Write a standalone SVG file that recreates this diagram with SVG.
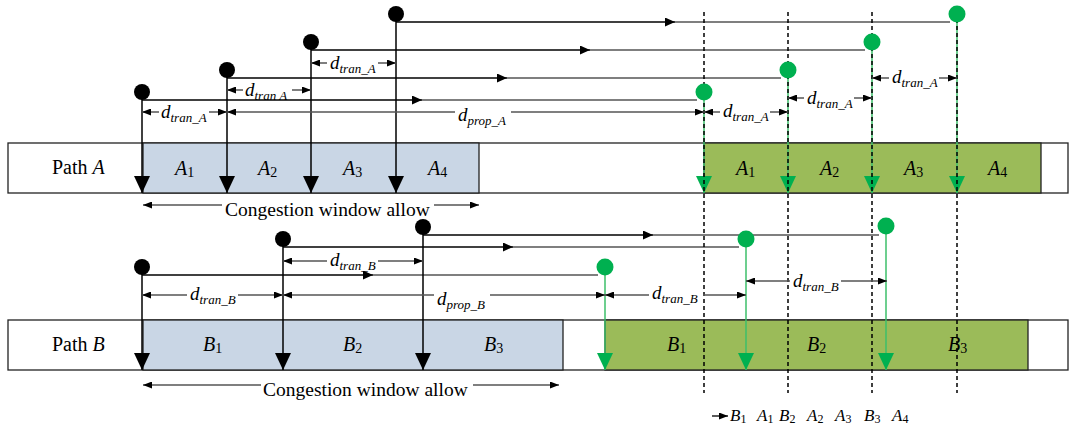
<svg xmlns="http://www.w3.org/2000/svg" width="1070" height="427" viewBox="0 0 1070 427">
<style>
.t{font-family:"Liberation Serif","Times New Roman",serif;fill:#000}
.lbl{font-size:20px}
.it{font-style:italic}
.sub{font-size:14px;font-style:normal}
.ord{font-size:17px}
.ords{font-size:12px;font-style:normal}
.dl{font-family:"Liberation Serif","Times New Roman",serif;font-style:italic;font-size:19px;fill:#000}
.ds{font-size:13px}
.outer{fill:#fff;stroke:#222;stroke-width:1.3}
.blue{fill:#C9D6E5;stroke:#222;stroke-width:1.3}
.green{fill:#9BBB59;stroke:#222;stroke-width:1.3}
.hl{stroke:#000;stroke-width:1.6;fill:none}
.hg{stroke:#555;stroke-width:1.5;fill:none}
.vl{stroke:#000;stroke-width:1.5;fill:none}
.gl{stroke:#3CBF6A;stroke-width:1.5;fill:none}
.dim{stroke:#555;stroke-width:1.3;fill:none}
.dash{stroke:#000;stroke-width:1.5;stroke-dasharray:4 3;fill:none}
.bd{fill:#000}
.gd{fill:#00B050}
</style>
<defs>
<marker id="aDown" viewBox="0 0 17 16" refX="17" refY="8" markerWidth="17" markerHeight="16" markerUnits="userSpaceOnUse" orient="auto"><path d="M0,0 L17,8 L0,16 z" fill="#000"/></marker>
<marker id="aDownG" viewBox="0 0 17 16" refX="17" refY="8" markerWidth="17" markerHeight="16" markerUnits="userSpaceOnUse" orient="auto"><path d="M0,0 L17,8 L0,16 z" fill="#00B050"/></marker>
<marker id="aMid" viewBox="0 0 10 9" refX="10" refY="4.5" markerWidth="10" markerHeight="9" markerUnits="userSpaceOnUse" orient="auto"><path d="M0,0 L10,4.5 L0,9 z" fill="#000"/></marker>
<marker id="aDim" viewBox="0 0 9 7" refX="9" refY="3.5" markerWidth="9" markerHeight="7" markerUnits="userSpaceOnUse" orient="auto-start-reverse"><path d="M0,0 L9,3.5 L0,7 z" fill="#000"/></marker>
</defs>

<!-- Path A bar -->
<g id="pathA">
<rect class="outer" x="8" y="143" width="1060" height="50"/>
<rect class="blue" x="143" y="143" width="336" height="50"/>
<rect class="green" x="704" y="143" width="337" height="50"/>
<text class="t lbl" x="52" y="174">Path <tspan class="it">A</tspan></text>
<text class="t lbl it" x="175" y="175">A<tspan class="sub" dy="2">1</tspan></text>
<text class="t lbl it" x="258" y="175">A<tspan class="sub" dy="2">2</tspan></text>
<text class="t lbl it" x="343" y="175">A<tspan class="sub" dy="2">3</tspan></text>
<text class="t lbl it" x="428" y="175">A<tspan class="sub" dy="2">4</tspan></text>
<text class="t lbl it" x="736" y="175">A<tspan class="sub" dy="2">1</tspan></text>
<text class="t lbl it" x="820" y="175">A<tspan class="sub" dy="2">2</tspan></text>
<text class="t lbl it" x="904" y="175">A<tspan class="sub" dy="2">3</tspan></text>
<text class="t lbl it" x="988" y="175">A<tspan class="sub" dy="2">4</tspan></text>
</g>

<!-- Path B bar -->
<g id="pathB">
<rect class="outer" x="8" y="320" width="1060" height="50"/>
<rect class="blue" x="143" y="320" width="420" height="50"/>
<rect class="green" x="605" y="320" width="423" height="50"/>
<text class="t lbl" x="52" y="351">Path <tspan class="it">B</tspan></text>
<text class="t lbl it" x="203" y="351">B<tspan class="sub" dy="2">1</tspan></text>
<text class="t lbl it" x="343" y="351">B<tspan class="sub" dy="2">2</tspan></text>
<text class="t lbl it" x="484" y="351">B<tspan class="sub" dy="2">3</tspan></text>
<text class="t lbl it" x="667" y="351">B<tspan class="sub" dy="2">1</tspan></text>
<text class="t lbl it" x="807" y="351">B<tspan class="sub" dy="2">2</tspan></text>
<text class="t lbl it" x="948" y="351">B<tspan class="sub" dy="2">3</tspan></text>
</g>

<!-- connectors -->
<g id="connectors">
<!-- Path A horizontal transmissions -->
<path class="hl" d="M142,100 H422" marker-end="url(#aMid)"/><path class="hg" d="M422,100 H697"/>
<path class="hl" d="M227,78 H507" marker-end="url(#aMid)"/><path class="hg" d="M507,78 H781"/>
<path class="hl" d="M311,50 H590" marker-end="url(#aMid)"/><path class="hg" d="M590,50 H865"/>
<path class="hl" d="M396,22 H675" marker-end="url(#aMid)"/><path class="hg" d="M675,22 H950"/>
<!-- Path B horizontal transmissions -->
<path class="hl" d="M142,275 H373" marker-end="url(#aMid)"/><path class="hg" d="M373,275 H598"/>
<path class="hl" d="M283,247 H513" marker-end="url(#aMid)"/><path class="hg" d="M513,247 H739"/>
<path class="hl" d="M423,235 H653" marker-end="url(#aMid)"/><path class="hg" d="M653,235 H879"/>

<!-- black vertical send arrows -->
<path class="vl" d="M142,92 V193" marker-end="url(#aDown)"/>
<path class="vl" d="M227,70 V193" marker-end="url(#aDown)"/>
<path class="vl" d="M311,42 V193" marker-end="url(#aDown)"/>
<path class="vl" d="M396,14 V193" marker-end="url(#aDown)"/>
<path class="vl" d="M142,268 V370" marker-end="url(#aDown)"/>
<path class="vl" d="M283,239 V370" marker-end="url(#aDown)"/>
<path class="vl" d="M423,227 V370" marker-end="url(#aDown)"/>

<!-- green vertical receive arrows -->
<path class="gl" d="M704,92 V193" marker-end="url(#aDownG)"/>
<path class="gl" d="M788,70 V193" marker-end="url(#aDownG)"/>
<path class="gl" d="M872,42 V193" marker-end="url(#aDownG)"/>
<path class="gl" d="M957,14 V193" marker-end="url(#aDownG)"/>
<path class="gl" d="M605,267 V370" marker-end="url(#aDownG)"/>
<path class="gl" d="M746,239 V370" marker-end="url(#aDownG)"/>
<path class="gl" d="M886,226 V370" marker-end="url(#aDownG)"/>

<!-- dashed time lines -->
<path class="dash" d="M704,12 V393"/>
<path class="dash" d="M788,12 V393"/>
<path class="dash" d="M872,12 V393"/>
<path class="dash" d="M957,12 V393"/>

<!-- dimension lines A -->
<path class="dim" d="M142,112 H159 M209,112 H227" marker-start="url(#aDim)" marker-end="url(#aDim)"/>
<path class="dim" d="M227,112 H455 M511,112 H704" marker-start="url(#aDim)" marker-end="url(#aDim)"/>
<path class="dim" d="M227,90 H243 M292,90 H311" marker-start="url(#aDim)" marker-end="url(#aDim)"/>
<path class="dim" d="M311,63 H327 M378,63 H396" marker-start="url(#aDim)" marker-end="url(#aDim)"/>
<path class="dim" d="M704,112 H720 M770,112 H788" marker-start="url(#aDim)" marker-end="url(#aDim)"/>
<path class="dim" d="M788,98 H804 M854,98 H872" marker-start="url(#aDim)" marker-end="url(#aDim)"/>
<path class="dim" d="M872,78 H889 M939,78 H957" marker-start="url(#aDim)" marker-end="url(#aDim)"/>
<!-- dimension lines B -->
<path class="dim" d="M142,295 H187 M238,295 H283" marker-start="url(#aDim)" marker-end="url(#aDim)"/>
<path class="dim" d="M283,295 H434 M490,295 H605" marker-start="url(#aDim)" marker-end="url(#aDim)"/>
<path class="dim" d="M283,261 H327 M378,261 H423" marker-start="url(#aDim)" marker-end="url(#aDim)"/>
<path class="dim" d="M605,295 H649 M703,295 H746" marker-start="url(#aDim)" marker-end="url(#aDim)"/>
<path class="dim" d="M746,281 H790 M841,281 H887" marker-start="url(#aDim)" marker-end="url(#aDim)"/>

<!-- congestion window arrows -->
<path class="dim" d="M143,205 H222 M434,205 H479" marker-start="url(#aDim)" marker-end="url(#aDim)"/>
<path class="dim" d="M143,385 H261 M473,385 H559" marker-start="url(#aDim)" marker-end="url(#aDim)"/>
<!-- order arrow -->
<path class="dim" d="M712,416 H728" marker-end="url(#aDim)" style="stroke:#000"/>
</g>

<!-- dots -->
<g id="send-dots">
<circle class="bd" cx="142" cy="92" r="8"/>
<circle class="bd" cx="227" cy="70" r="8"/>
<circle class="bd" cx="311" cy="42" r="8"/>
<circle class="bd" cx="396" cy="14" r="8"/>
<circle class="bd" cx="142" cy="267" r="8"/>
<circle class="bd" cx="283" cy="239" r="8"/>
<circle class="bd" cx="423" cy="227" r="8"/>
</g>
<g id="recv-dots">
<circle class="gd" cx="704" cy="92" r="8.5"/>
<circle class="gd" cx="788" cy="70" r="8.5"/>
<circle class="gd" cx="872" cy="42" r="8.5"/>
<circle class="gd" cx="957" cy="14" r="8.5"/>
<circle class="gd" cx="605" cy="267" r="8.5"/>
<circle class="gd" cx="746" cy="239" r="8.5"/>
<circle class="gd" cx="886" cy="226" r="8.5"/>
</g>

<!-- dimension labels -->
<g id="dim-labels">
<text class="dl" x="161" y="118">d<tspan class="ds" dy="4">tran_A</tspan></text>
<text class="dl" x="458" y="121">d<tspan class="ds" dy="4">prop_A</tspan></text>
<text class="dl" x="245" y="96">d<tspan class="ds" dy="4">tran A</tspan></text>
<text class="dl" x="330" y="69">d<tspan class="ds" dy="4">tran_A</tspan></text>
<text class="dl" x="723" y="117">d<tspan class="ds" dy="4">tran_A</tspan></text>
<text class="dl" x="807" y="104">d<tspan class="ds" dy="4">tran_A</tspan></text>
<text class="dl" x="892" y="83">d<tspan class="ds" dy="4">tran_A</tspan></text>
<text class="dl" x="190" y="300">d<tspan class="ds" dy="4">tran_B</tspan></text>
<text class="dl" x="437" y="305">d<tspan class="ds" dy="4">prop_B</tspan></text>
<text class="dl" x="330" y="266">d<tspan class="ds" dy="4">tran_B</tspan></text>
<text class="dl" x="652" y="299">d<tspan class="ds" dy="4">tran_B</tspan></text>
<text class="dl" x="793" y="287">d<tspan class="ds" dy="4">tran_B</tspan></text>
</g>

<g id="congestion-labels">
<text class="t" x="225" y="216" style="font-size:19.5px">Congestion window allow</text>
<text class="t" x="263" y="396" style="font-size:19.5px">Congestion window allow</text>
</g>

<g id="order">
<text class="t ord it" x="730" y="421">B<tspan class="ords" dy="2">1</tspan></text>
<text class="t ord it" x="757" y="421">A<tspan class="ords" dy="2">1</tspan></text>
<text class="t ord it" x="779" y="421">B<tspan class="ords" dy="2">2</tspan></text>
<text class="t ord it" x="807" y="421">A<tspan class="ords" dy="2">2</tspan></text>
<text class="t ord it" x="835" y="421">A<tspan class="ords" dy="2">3</tspan></text>
<text class="t ord it" x="864" y="421">B<tspan class="ords" dy="2">3</tspan></text>
<text class="t ord it" x="892" y="421">A<tspan class="ords" dy="2">4</tspan></text>
</g>
</svg>
